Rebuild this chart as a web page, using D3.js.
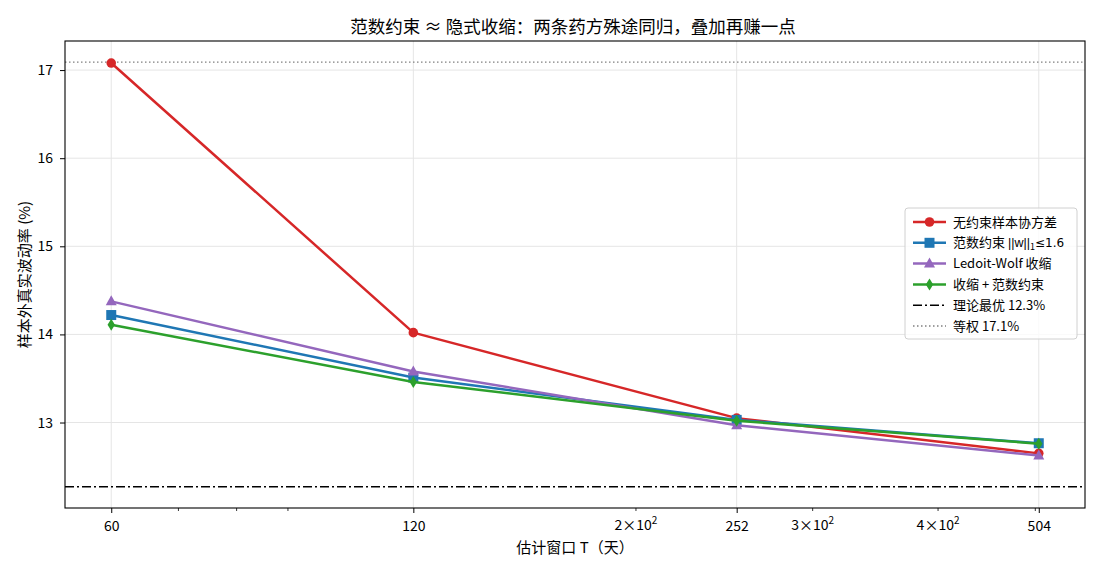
<!DOCTYPE html>
<meta charset="utf-8">
<script src="https://d3js.org/d3.v7.min.js"></script>
<body style="margin:0;background:#fff">
    <div id="viz"></div>
</body>
<style>
    text { font-family: "Noto Sans CJK SC", "DejaVu Sans", sans-serif; fill: #000; }
</style>
<script>
    // data
    let windows = [60, 120, 252, 504];
    let seriesNames = ["无约束样本协方差", "范数约束 ", "Ledoit-Wolf 收缩", "收缩 + 范数约束"];
    let unconstrained = [17.08, 14.02, 13.05, 12.65];
    let normConstr = [14.22, 13.51, 13.03, 12.765];
    let ledoitWolf = [14.375, 13.58, 12.97, 12.625];
    let shrinkNorm = [14.11, 13.46, 13.02, 12.76];
    let theoryBest = 12.27, equalWeight = 17.09;
    let refNames = ["理论最优 12.3%", "等权 17.1%"];
    let yTicks = [13, 14, 15, 16, 17];
    let minorTicks = [70, 80, 90, 200, 300, 400, 500];
    let minorLabels = {200: "2", 300: "3", 400: "4"};

    let colors = ["#d62728", "#1f77b4", "#9467bd", "#2ca02c"];
    let shapes = ["circle", "square", "triangle", "diamond"];
    let allSeries = [unconstrained, normConstr, ledoitWolf, shrinkNorm];

    let W = 1100, H = 572;
    let margin = {top: 41, right: 15, bottom: 64, left: 65};
    let width = W - margin.left - margin.right, height = H - margin.top - margin.bottom;

    let svg = d3.select("#viz").append("svg")
        .attr("width", W).attr("height", H);
    let g = svg.append("g").attr("transform", `translate(${margin.left},${margin.top})`);

    let x = d3.scaleLog().domain([53.96, 560.4]).range([0, width]);
    let y = d3.scaleLinear().domain([12.03, 17.33]).range([height, 0]);

    // grid
    g.append("g").selectAll("line").data(windows).enter().append("line")
        .attr("x1", d => x(d)).attr("x2", d => x(d)).attr("y1", 0).attr("y2", height)
        .style("stroke", "#e5e5e5").style("stroke-width", 1);
    g.append("g").selectAll("line").data(yTicks).enter().append("line")
        .attr("x1", 0).attr("x2", width).attr("y1", d => y(d)).attr("y2", d => y(d))
        .style("stroke", "#e5e5e5").style("stroke-width", 1);

    // reference lines
    g.append("line").attr("x1", 0).attr("x2", width)
        .attr("y1", y(theoryBest)).attr("y2", y(theoryBest))
        .style("stroke", "#000").style("stroke-width", 1.5).style("stroke-dasharray", "9,3,2,3");
    g.append("line").attr("x1", 0).attr("x2", width)
        .attr("y1", y(equalWeight)).attr("y2", y(equalWeight))
        .style("stroke", "#808080").style("stroke-width", 1.4).style("stroke-dasharray", "1.5,2.5");

    function markerPath(shape) {
        if (shape === "circle") return d3.symbol(d3.symbolCircle, 72)();
        if (shape === "square") return "M-5,-5H5V5H-5Z";
        if (shape === "triangle") return "M0,-6L5.5,4L-5.5,4Z";
        return "M0,-6L3.7,0L0,6L-3.7,0Z";
    }

    let line = d3.line().x((d, i) => x(windows[i])).y(d => y(d));
    allSeries.forEach(function(s, k) {
        g.append("path").datum(s).attr("d", line)
            .style("fill", "none").style("stroke", colors[k]).style("stroke-width", 2.5)
            .style("stroke-linejoin", "round");
        g.append("g").selectAll("path").data(s).enter().append("path")
            .attr("transform", (d, i) => `translate(${x(windows[i])},${y(d)})`)
            .attr("d", markerPath(shapes[k]))
            .style("fill", colors[k]);
    });

    // axes frame
    g.append("rect").attr("width", width).attr("height", height)
        .style("fill", "none").style("stroke", "#000").style("stroke-width", 1.1);

    // x axis
    let xAxis = g.append("g").attr("transform", `translate(0,${height})`)
        .call(d3.axisBottom(x).tickValues(windows).tickFormat(d => d).tickSize(5).tickPadding(8));
    xAxis.select(".domain").remove();
    xAxis.selectAll(".tick text").style("font-size", "14px");
    let xMinor = g.append("g").attr("transform", `translate(0,${height})`);
    xMinor.selectAll("line").data(minorTicks).enter().append("line")
        .attr("x1", d => x(d)).attr("x2", d => x(d)).attr("y1", 0).attr("y2", 3)
        .style("stroke", "#000").style("stroke-width", 0.8);
    let ml = xMinor.selectAll("text").data(minorTicks.filter(d => minorLabels[d])).enter().append("text")
        .attr("x", d => x(d)).attr("y", 22)
        .attr("text-anchor", "middle").style("font-size", "14px");
    ml.append("tspan").text(d => minorLabels[d] + "×10");
    ml.append("tspan").attr("dy", -6).style("font-size", "10px").text("2");

    // y axis
    let yAxis = g.append("g")
        .call(d3.axisLeft(y).tickValues(yTicks).tickFormat(d3.format("d")).tickSize(5).tickPadding(7));
    yAxis.select(".domain").remove();
    yAxis.selectAll(".tick text").style("font-size", "14px");

    // labels
    svg.append("text").attr("x", margin.left + width / 2).attr("y", 553)
        .attr("text-anchor", "middle").style("font-size", "15px").text("估计窗口 T（天）");
    svg.append("text").attr("transform", `translate(30,${margin.top + height / 2}) rotate(-90)`)
        .attr("text-anchor", "middle").style("font-size", "15px").text("样本外真实波动率 (%)");
    svg.append("text").attr("x", margin.left + width / 2 - 2).attr("y", 33)
        .attr("text-anchor", "middle").style("font-size", "17.5px").text("范数约束 ≈ 隐式收缩：两条药方殊途同归，叠加再赚一点");

    // legend
    let legend = svg.append("g").attr("transform", "translate(905,208)");
    legend.append("rect").attr("width", 172).attr("height", 131).attr("rx", 3)
        .style("fill", "rgba(255,255,255,0.8)").style("stroke", "#d0d0d0");
    let rowH = 20.8;
    seriesNames.forEach(function(name, k) {
        let ry = 14 + k * rowH;
        legend.append("line").attr("x1", 8).attr("x2", 41).attr("y1", ry).attr("y2", ry)
            .style("stroke", colors[k]).style("stroke-width", 2.5);
        legend.append("path").attr("transform", `translate(24.5,${ry})`)
            .attr("d", markerPath(shapes[k])).style("fill", colors[k]);
        let t = legend.append("text").attr("x", 48).attr("y", ry + 4.5).style("font-size", "13px").text(name);
        if (k === 1) {
            t.append("tspan").style("font-family", "Liberation Sans").style("font-size", "12.5px").text("||w||");
            t.append("tspan").attr("dy", 3).style("font-size", "9px").text("1");
            t.append("tspan").attr("dy", -3).style("font-family", "DejaVu Sans").style("font-size", "12px").text("≤1.6");
        }
    });
    let refStyles = [["#000", "9,3,2,3", 1.5], ["#808080", "1.5,2.5", 1.4]];
    refNames.forEach(function(name, j) {
        let ry = 14 + (4 + j) * rowH;
        legend.append("line").attr("x1", 8).attr("x2", 41).attr("y1", ry).attr("y2", ry)
            .style("stroke", refStyles[j][0]).style("stroke-dasharray", refStyles[j][1])
            .style("stroke-width", refStyles[j][2]);
        legend.append("text").attr("x", 48).attr("y", ry + 4.5).style("font-size", "13px").text(name);
    });
</script>
